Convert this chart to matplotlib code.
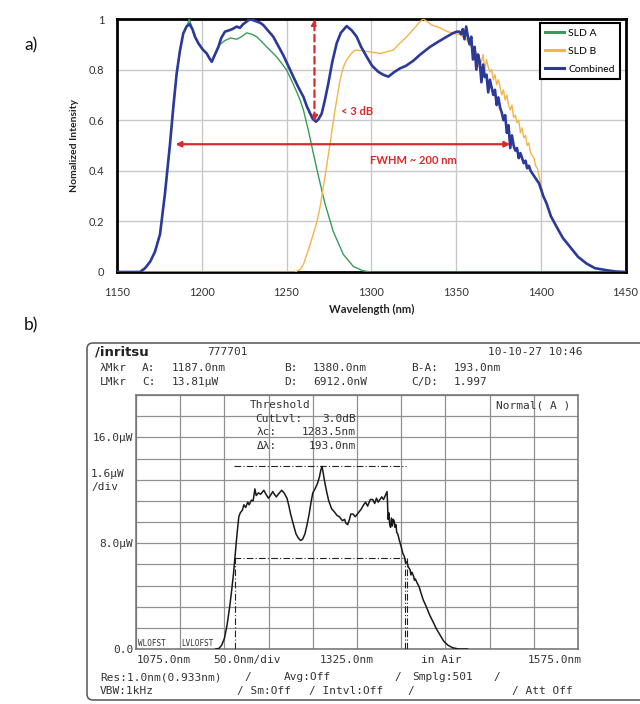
import matplotlib
matplotlib.use('Agg')
import matplotlib.pyplot as plt
import numpy as np
from matplotlib.patches import FancyBboxPatch

# ---------------- Panel a data ----------------
wl_a = [1150, 1160, 1163.6, 1166.5, 1169.5, 1172.4, 1175.4, 1178.3, 1181.3, 1183.2, 1185.2, 1187.2,
        1189.1, 1191.5, 1192.6, 1193.8, 1196, 1198, 1200.5, 1202.9, 1205.9, 1208, 1210.8, 1213.7,
        1217, 1220.6, 1223.5, 1226.5, 1229.5, 1232.4, 1235.4, 1238.3, 1241.3, 1244.2, 1247.1,
        1250.1, 1253, 1256, 1258, 1260, 1262.9, 1265.8, 1268.8, 1272.7, 1277.6, 1283.5, 1289.4,
        1295, 1300, 1450]
sld_a = [0, 0, 0.0, 0.015, 0.04, 0.08, 0.15, 0.31, 0.508, 0.65, 0.785, 0.877,
         0.943, 0.975, 1.0, 0.975, 0.93, 0.904, 0.88, 0.864, 0.831, 0.86, 0.9, 0.915,
         0.925, 0.92, 0.93, 0.945, 0.94, 0.93, 0.91, 0.89, 0.87, 0.85, 0.825,
         0.798, 0.757, 0.712, 0.68, 0.64, 0.56, 0.47, 0.38, 0.27, 0.16, 0.07, 0.022,
         0.005, 0, 0]

wl_b = [1150, 1255, 1258, 1260, 1262, 1264, 1265.8, 1268, 1269.8, 1272.7, 1275.7, 1278.6, 1281.6,
        1283.5, 1285.5, 1288, 1290.4, 1294, 1297.3, 1301, 1305.2, 1309, 1313, 1317, 1320.9, 1325,
        1328.8, 1330.7, 1333, 1336, 1340.6, 1345, 1350.4,
        1352, 1354, 1356, 1358, 1360, 1361, 1362, 1363, 1364, 1365, 1366, 1367, 1368, 1369, 1370,
        1371, 1372, 1373, 1374, 1375, 1376, 1377, 1378, 1379, 1380, 1381, 1382, 1383, 1384, 1385,
        1386, 1387, 1388, 1389, 1390, 1391, 1392, 1393, 1394, 1395, 1396, 1397, 1398, 1399, 1400,
        1401.5, 1403.5, 1406, 1409.4, 1413, 1417.3, 1422, 1427.1, 1432, 1438.9, 1444, 1450]
sld_b = [0, 0, 0.01, 0.03, 0.07, 0.11, 0.15, 0.2, 0.257, 0.376, 0.508, 0.64, 0.759,
         0.81, 0.838, 0.862, 0.877, 0.875, 0.872, 0.868, 0.864, 0.87, 0.877, 0.905, 0.93, 0.96,
         0.99, 1.0, 0.99, 0.975, 0.965, 0.95, 0.94,
         0.94, 0.93, 0.92, 0.90, 0.88, 0.85, 0.87, 0.81, 0.84, 0.83, 0.86, 0.80, 0.84, 0.81, 0.79,
         0.80, 0.76, 0.78, 0.74, 0.76, 0.73, 0.70, 0.72, 0.68, 0.70, 0.66, 0.64, 0.66, 0.61, 0.62,
         0.59, 0.60, 0.55, 0.57, 0.53, 0.54, 0.50, 0.51, 0.47, 0.46, 0.45, 0.42, 0.41, 0.38, 0.35,
         0.30, 0.27, 0.22, 0.178, 0.135, 0.099, 0.06, 0.033, 0.015, 0.007, 0.002, 0]

wl_c = [1150, 1160, 1163.6, 1166.5, 1169.5, 1172.4, 1175.4, 1178.3, 1181.3, 1183.2, 1185.2, 1187.2,
        1189.1, 1191, 1192.7, 1194.5, 1196, 1198, 1200.5, 1202.9, 1204.5, 1205.9, 1207.5, 1209.8,
        1211.5, 1213.7, 1216, 1218, 1220.6, 1222.5, 1224.5, 1226.5, 1228.5, 1230.5, 1232.5, 1234.5,
        1236.3, 1239, 1242.2, 1245, 1248.1, 1251, 1254, 1257, 1260, 1262, 1263.9, 1265.5, 1267.4,
        1269, 1270.8, 1272.5, 1274.7, 1277, 1279.6, 1282, 1285.5, 1288.5, 1291.4, 1294, 1297.3,
        1300.5, 1304.2, 1307, 1310.1, 1313.5, 1317, 1320.5, 1324.8, 1329, 1334.7, 1339.5, 1344.5,
        1348.5, 1350.5,
        1352, 1353, 1354, 1355, 1356, 1357, 1358, 1359, 1360, 1361, 1362, 1363, 1364, 1365, 1366,
        1367, 1368, 1369, 1370, 1371, 1372, 1373, 1374, 1375, 1376, 1377, 1378, 1379, 1380, 1381,
        1382, 1383, 1384, 1385, 1386, 1387, 1388, 1389, 1390, 1391, 1392, 1393, 1394, 1395, 1396,
        1397, 1398, 1399, 1400,
        1401.5, 1403.5, 1406, 1409.4, 1413, 1417.3, 1422, 1427.1, 1432, 1438.9, 1444, 1450]
combined = [0, 0, 0.0, 0.015, 0.04, 0.08, 0.15, 0.31, 0.508, 0.65, 0.785, 0.877,
            0.943, 0.97, 0.98, 0.96, 0.93, 0.904, 0.88, 0.864, 0.845, 0.831, 0.855, 0.89,
            0.925, 0.95, 0.955, 0.96, 0.97, 0.965, 0.98, 0.99, 1.0, 0.995, 0.99, 0.985,
            0.976, 0.955, 0.93, 0.895, 0.857, 0.815, 0.772, 0.73, 0.692, 0.655, 0.627, 0.605, 0.594,
            0.605, 0.627, 0.675, 0.746, 0.83, 0.904, 0.945, 0.972, 0.955, 0.93, 0.89, 0.851,
            0.815, 0.791, 0.78, 0.772, 0.79, 0.805, 0.815, 0.835, 0.86, 0.89, 0.91, 0.93,
            0.945, 0.95,
            0.95, 0.94, 0.96, 0.92, 0.97, 0.93, 0.90, 0.93, 0.84, 0.89, 0.80, 0.86, 0.83, 0.75, 0.82,
            0.77, 0.78, 0.71, 0.76, 0.73, 0.70, 0.72, 0.66, 0.69, 0.65, 0.63, 0.60, 0.62, 0.55, 0.58,
            0.49, 0.54, 0.50, 0.48, 0.49, 0.45, 0.47, 0.45, 0.43, 0.44, 0.41, 0.42, 0.40, 0.39, 0.38,
            0.37, 0.36, 0.35, 0.33,
            0.30, 0.27, 0.22, 0.178, 0.135, 0.099, 0.06, 0.033, 0.015, 0.007, 0.002, 0]

series_names = ['SLD A', 'SLD B', 'Combined']
x_ticks_a = [1150, 1200, 1250, 1300, 1350, 1400, 1450]
y_ticks_a = [0, 0.2, 0.4, 0.6, 0.8, 1.0]
y_ticklabels_a = ['0', '0.2', '0.4', '0.6', '0.8', '1']
dip_wl, dip_low, dip_high = 1266.5, 0.594, 1.0
fwhm_left, fwhm_right, fwhm_level = 1184.5, 1382.0, 0.505

# ---------------- Panel b data ----------------
osa_wl = [1165, 1169, 1172, 1175, 1178, 1181, 1183, 1185.3, 1187, 1189.3, 1191.3, 1193, 1195.4, 1197,
          1199, 1201.4, 1203, 1205.5, 1207.5, 1209.5, 1211, 1213.5, 1216, 1219.6, 1222, 1224.8, 1227,
          1229.7, 1231.5, 1233.7, 1236, 1239.8, 1242.5, 1245.8, 1248, 1249.9, 1251.9, 1253.9, 1256,
          1258.5, 1261.2, 1263.5, 1266.1, 1268.5, 1270.9, 1273, 1275, 1277.5, 1280.2, 1282.5, 1284,
          1285.4, 1286.5, 1288, 1290.3, 1293, 1296.3, 1299, 1302.4, 1305, 1308.5, 1311, 1312.5,
          1314.5, 1316.5, 1318, 1320.6, 1323, 1326.6, 1330, 1332.5, 1334.7, 1337, 1340, 1342.8, 1345,
          1347, 1349, 1350.9, 1353, 1355, 1357, 1359, 1359.6, 1360.2, 1361, 1362, 1363, 1364, 1365,
          1366, 1367, 1368, 1369, 1370, 1371.1, 1373, 1375.1, 1377, 1378.5, 1380, 1381.5, 1383, 1385,
          1386, 1387.2, 1389, 1390, 1391, 1393, 1395.3, 1398, 1400, 1403.4, 1407, 1411.4, 1415,
          1419.5, 1423, 1427.6, 1433, 1439.7, 1450]
osa_uW = [0, 0.05, 0.3, 0.8, 1.8, 3.2, 4.3, 5.7, 7.0, 8.7, 10.0, 10.3, 10.5, 10.9,
          10.7, 11.1, 10.9, 11.25, 11.2, 12.1, 11.6, 11.8, 11.7, 12.0, 11.7, 11.4, 11.6,
          11.9, 11.7, 11.5, 11.7, 12.0, 11.8, 11.4, 10.8, 10.2, 9.7, 9.2, 8.7,
          8.4, 8.2, 8.3, 8.7, 9.4, 10.2, 11.1, 11.8, 12.1, 12.5, 13.0, 13.5,
          13.8, 13.4, 12.8, 12.0, 11.2, 10.6, 10.4, 10.1, 10.0, 9.7, 9.8, 9.5,
          9.4, 9.8, 10.2, 10.2, 10.0, 10.3, 10.6, 10.9, 11.1, 10.8, 11.3, 11.3, 11.0,
          11.4, 11.1, 11.3, 11.5, 11.3, 11.6, 11.9, 10.9, 9.8, 10.3, 9.4, 9.2, 9.9, 9.3,
          9.8, 9.7, 9.2, 9.4, 8.8, 8.7, 8.2, 7.7, 7.2, 7.0, 6.5, 6.6, 6.2, 6.0,
          5.6, 5.8, 5.5, 5.2, 5.3, 5.0, 4.7, 4.1, 3.7, 3.2, 2.6, 2.0, 1.5,
          1.0, 0.6, 0.3, 0.1, 0.0, 0.0]
osa_peak_uW = 13.81
osa_half_uW = 6.912
mkr_a_nm = 1187.0
mkr_b_nm = 1380.0
osa_xlim = (1075, 1575)
osa_ylim = (0, 19.2)
osa_ytick_vals = list(np.linspace(0, 19.2, 13))
osa_yticklabels = ['0.0', '', '', '', '', '8.0μW', '', '', '', '', '16.0μW', '', '']

# ---------------- Figure ----------------
fig = plt.figure(figsize=(6.4, 7.04), dpi=100)

C_A = '#3a9a5c'
C_B = '#f2b54a'
C_C = '#2b3a99'
RED = '#d52b2b'
fa = 'Lato'

ax = fig.add_axes([117/640, 1-272/704, 508.5/640, 253/704], zorder=2)
ax.plot(wl_a, sld_a, color=C_A, lw=1.0, label=series_names[0], zorder=3)
ax.plot(wl_b, sld_b, color=C_B, lw=1.0, label=series_names[1], zorder=3)
ax.plot(wl_c, combined, color=C_C, lw=1.9, label=series_names[2], zorder=4)
ax.set_xlim(1150, 1450)
ax.set_ylim(0, 1)
ax.set_xticks(x_ticks_a)
ax.set_yticks(y_ticks_a)
ax.set_yticklabels(y_ticklabels_a)
ax.grid(True, color='#c8c8c8', lw=1.0, zorder=0)
ax.set_axisbelow(True)
for s in ax.spines.values():
    s.set_color('black')
    s.set_linewidth(2.0)
ax.tick_params(length=0, labelsize=8, labelcolor='#333333')
ax.tick_params(axis='x', pad=11)
ax.tick_params(axis='y', pad=9)
for lab in ax.get_xticklabels() + ax.get_yticklabels():
    lab.set_family(fa)
ax.set_xlabel('Wavelength (nm)', family=fa, weight='bold', fontsize=8, color='#222222')
ax.set_ylabel('Nomalized Intensity', family=fa, weight='bold', fontsize=7.5, color='#222222')
ax.xaxis.set_label_coords(0.5, -0.125)
ax.yaxis.set_label_coords(-0.075, 0.5)

leg = ax.legend(loc='upper right', bbox_to_anchor=(0.989, 0.984), borderaxespad=0,
                prop={'family': fa, 'size': 7.5}, handlelength=1.8, labelspacing=0.85,
                handletextpad=0.4, borderpad=0.5, fancybox=False, framealpha=1)
leg.get_frame().set_edgecolor('black')
leg.get_frame().set_linewidth(1.5)
for h in leg.get_lines():
    h.set_linewidth(2.2)

# annotations
ax.annotate('', xy=(dip_wl, dip_high), xytext=(dip_wl, dip_low),
            arrowprops=dict(arrowstyle='<|-|>', color=RED, lw=1.6, linestyle=(0, (3, 2)),
                            mutation_scale=8, shrinkA=0, shrinkB=0), zorder=5)
ax.annotate('', xy=(fwhm_right, fwhm_level), xytext=(fwhm_left, fwhm_level),
            arrowprops=dict(arrowstyle='<|-|>', color=RED, lw=1.6, mutation_scale=8,
                            shrinkA=0, shrinkB=0), zorder=5)
ax.text(1282, 0.635, '< 3 dB', color=RED, family=fa, weight='bold', fontsize=8, va='center')
ax.text(1325, 0.44, 'FWHM ~ 200 nm', color=RED, family=fa, weight='bold', fontsize=8,
        va='center', ha='center')

# ---------------- Panel b ----------------
axb = fig.add_axes([136/640, 1-649/704, 442/640, 254/704], zorder=2)
axb.patch.set_alpha(0)
axb.plot(osa_wl, osa_uW, color='#1a1a1a', lw=1.1, zorder=4)
dd = dict(color='#222222', lw=0.8, linestyle=(0, (6, 2, 1, 2)), zorder=3)
axb.plot([1186, mkr_b_nm], [osa_peak_uW, osa_peak_uW], **dd)
axb.plot([1186, 1377], [osa_half_uW, osa_half_uW], **dd)
axb.plot([mkr_a_nm, mkr_a_nm], [0, osa_half_uW], **dd)
axb.plot([mkr_b_nm - 0.8, mkr_b_nm - 0.8], [0, osa_half_uW], **dd)
axb.plot([mkr_b_nm + 1.2, mkr_b_nm + 1.2], [0, osa_half_uW], **dd)
axb.set_xlim(*osa_xlim)
axb.set_ylim(*osa_ylim)
axb.set_xticks(np.arange(1075, 1576, 50))
axb.set_xticklabels([])
axb.set_yticks(osa_ytick_vals)
axb.set_yticklabels(osa_yticklabels)
axb.tick_params(length=0, pad=2, labelsize=8, labelcolor='#333333')
for lab in axb.get_yticklabels():
    lab.set_family('DejaVu Sans Mono')
axb.grid(True, color='#909090', lw=0.9, zorder=1)
for s in axb.spines.values():
    s.set_color('#707070')
    s.set_linewidth(1.1)

# overlay for instrument text
ov = fig.add_axes([0, 0, 1, 1], zorder=5)
ov.set_xlim(0, 640)
ov.set_ylim(704, 0)
ov.axis('off')
box = FancyBboxPatch((87, 343), 600, 357, boxstyle='round,pad=0,rounding_size=6',
                     fc='none', ec='#555555', lw=1.1, clip_on=True)
ov.add_patch(box)
box.set_clip_path(ov.patch)

mono = dict(family='DejaVu Sans Mono', fontsize=8, color='#333333', va='center')


def t(x, y, s, ha='left', **kw):
    d = dict(mono)
    d.update(kw)
    ov.text(x, y, s, ha=ha, **d)


t(95, 352, '/inritsu', family='DejaVu Sans', weight='bold', fontsize=9.5, color='#222222')
t(207, 352, '777701')
t(582, 352, '10-10-27 10:46', ha='right')
for y, cells in [(368, [(100, 'λMkr'), (142, 'A:'), (172, '1187.0nm'), (284, 'B:'), (313, '1380.0nm'),
                        (411, 'B-A:'), (454, '193.0nm')]),
                 (382, [(100, 'LMkr'), (142, 'C:'), (172, '13.81μW'), (284, 'D:'), (313, '6912.0nW'),
                        (411, 'C/D:'), (454, '1.997')])]:
    for x, s in cells:
        t(x, y, s)
t(250, 405, 'Threshold')
t(255, 419, 'CutLvl:')
t(356, 419, '3.0dB', ha='right')
t(257, 432, 'λc:')
t(356, 432, '1283.5nm', ha='right')
t(257, 446, 'Δλ:')
t(356, 446, '193.0nm', ha='right')
t(496, 405, 'Normal( A )')
t(91, 474, '1.6μW')
t(91, 487, '/div')
t(138, 643, 'WLOFST', fontsize=5.5)
t(181, 643, 'LVLOFST', fontsize=5.5)
t(137, 660, '1075.0nm')
t(213, 660, '50.0nm/div')
t(320, 660, '1325.0nm')
t(421, 660, 'in Air')
t(582, 660, '1575.0nm', ha='right')
for x, s in [(100, 'Res:1.0nm(0.933nm)'), (244, '/'), (284, 'Avg:Off'), (394, '/'),
             (412, 'Smplg:501'), (493, '/')]:
    t(x, 677, s)
for x, s in [(100, 'VBW:1kHz'), (237, '/ Sm:Off'), (309, '/ Intvl:Off'), (407, '/'),
             (512, '/ Att Off')]:
    t(x, 691, s)

ov.text(24, 45, 'a)', family=fa, fontsize=12.5, color='#111111', va='center')
ov.text(24, 325, 'b)', family=fa, fontsize=12.5, color='#111111', va='center')

fig.savefig('out.png', dpi=100)
